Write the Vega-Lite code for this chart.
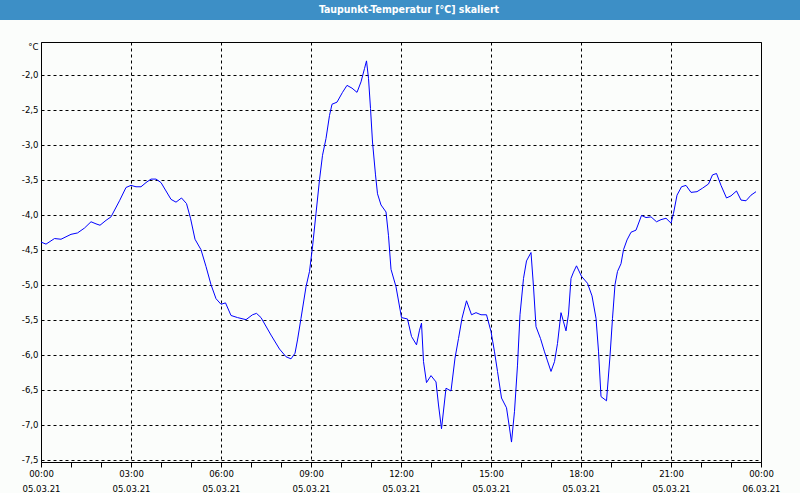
{
  "$schema": "https://vega.github.io/schema/vega-lite/v6.json",
  "background": "#fbfdfb",
  "padding": 0,
  "columns": 1,
  "spacing": 20,
  "config": {"font": "DejaVu Sans Condensed, DejaVu Sans"},
  "concat": [
    {
      "width": 760,
      "height": 20,
      "view": {"fill": "#3d8fc6", "stroke": null},
      "data": {"values": [{"label": "Taupunkt-Temperatur [°C] skaliert", "p": 0}]},
      "mark": {"type": "text", "color": "white", "fontSize": 10.5, "fontWeight": "bold", "dx": -12},
      "encoding": {
        "text": {"field": "label", "type": "nominal"},
        "y": {
          "field": "p",
          "type": "quantitative",
          "scale": {"domain": [-1, 1]},
          "axis": {"title": null, "labels": false, "ticks": false, "grid": false, "domain": true, "domainColor": "#3d8fc6", "domainWidth": 82, "translate": 0, "minExtent": 0}
        }
      }
    },
    {
      "width": 720,
      "height": 420,
      "view": {"stroke": "black", "strokeWidth": 1, "fill": null},
      "data": {"values": [
        {"t": "2021-03-05T00:00", "v": -4.39},
        {"t": "2021-03-05T00:10", "v": -4.42},
        {"t": "2021-03-05T00:27", "v": -4.34},
        {"t": "2021-03-05T00:40", "v": -4.35},
        {"t": "2021-03-05T01:00", "v": -4.28},
        {"t": "2021-03-05T01:13", "v": -4.26},
        {"t": "2021-03-05T01:27", "v": -4.19},
        {"t": "2021-03-05T01:40", "v": -4.10},
        {"t": "2021-03-05T01:50", "v": -4.13},
        {"t": "2021-03-05T01:58", "v": -4.15},
        {"t": "2021-03-05T02:10", "v": -4.08},
        {"t": "2021-03-05T02:20", "v": -4.03},
        {"t": "2021-03-05T02:37", "v": -3.80},
        {"t": "2021-03-05T02:50", "v": -3.61},
        {"t": "2021-03-05T03:00", "v": -3.58},
        {"t": "2021-03-05T03:10", "v": -3.60},
        {"t": "2021-03-05T03:20", "v": -3.60},
        {"t": "2021-03-05T03:30", "v": -3.54},
        {"t": "2021-03-05T03:40", "v": -3.49},
        {"t": "2021-03-05T03:50", "v": -3.49},
        {"t": "2021-03-05T04:00", "v": -3.54},
        {"t": "2021-03-05T04:10", "v": -3.66},
        {"t": "2021-03-05T04:20", "v": -3.78},
        {"t": "2021-03-05T04:30", "v": -3.82},
        {"t": "2021-03-05T04:41", "v": -3.76},
        {"t": "2021-03-05T04:51", "v": -3.84},
        {"t": "2021-03-05T04:59", "v": -4.05},
        {"t": "2021-03-05T05:08", "v": -4.35},
        {"t": "2021-03-05T05:20", "v": -4.50},
        {"t": "2021-03-05T05:30", "v": -4.74},
        {"t": "2021-03-05T05:40", "v": -5.00},
        {"t": "2021-03-05T05:50", "v": -5.20},
        {"t": "2021-03-05T06:00", "v": -5.28},
        {"t": "2021-03-05T06:09", "v": -5.26},
        {"t": "2021-03-05T06:20", "v": -5.44},
        {"t": "2021-03-05T06:33", "v": -5.47},
        {"t": "2021-03-05T06:50", "v": -5.50},
        {"t": "2021-03-05T07:03", "v": -5.43},
        {"t": "2021-03-05T07:11", "v": -5.41},
        {"t": "2021-03-05T07:20", "v": -5.47},
        {"t": "2021-03-05T07:40", "v": -5.72},
        {"t": "2021-03-05T07:57", "v": -5.92},
        {"t": "2021-03-05T08:10", "v": -6.03},
        {"t": "2021-03-05T08:20", "v": -6.06},
        {"t": "2021-03-05T08:28", "v": -5.98},
        {"t": "2021-03-05T08:33", "v": -5.79},
        {"t": "2021-03-05T08:40", "v": -5.48},
        {"t": "2021-03-05T08:50", "v": -5.03},
        {"t": "2021-03-05T08:57", "v": -4.81},
        {"t": "2021-03-05T09:03", "v": -4.46},
        {"t": "2021-03-05T09:10", "v": -3.98},
        {"t": "2021-03-05T09:17", "v": -3.50},
        {"t": "2021-03-05T09:23", "v": -3.15},
        {"t": "2021-03-05T09:30", "v": -2.91},
        {"t": "2021-03-05T09:37", "v": -2.58},
        {"t": "2021-03-05T09:42", "v": -2.42},
        {"t": "2021-03-05T09:52", "v": -2.39},
        {"t": "2021-03-05T10:03", "v": -2.25},
        {"t": "2021-03-05T10:12", "v": -2.15},
        {"t": "2021-03-05T10:22", "v": -2.19},
        {"t": "2021-03-05T10:32", "v": -2.25},
        {"t": "2021-03-05T10:40", "v": -2.10},
        {"t": "2021-03-05T10:47", "v": -1.91},
        {"t": "2021-03-05T10:51", "v": -1.80},
        {"t": "2021-03-05T10:55", "v": -2.05},
        {"t": "2021-03-05T10:59", "v": -2.48},
        {"t": "2021-03-05T11:03", "v": -2.96},
        {"t": "2021-03-05T11:09", "v": -3.43},
        {"t": "2021-03-05T11:13", "v": -3.70},
        {"t": "2021-03-05T11:20", "v": -3.86},
        {"t": "2021-03-05T11:30", "v": -3.96},
        {"t": "2021-03-05T11:35", "v": -4.30},
        {"t": "2021-03-05T11:40", "v": -4.78},
        {"t": "2021-03-05T11:50", "v": -5.03},
        {"t": "2021-03-05T12:01", "v": -5.47},
        {"t": "2021-03-05T12:13", "v": -5.49},
        {"t": "2021-03-05T12:21", "v": -5.74},
        {"t": "2021-03-05T12:31", "v": -5.86},
        {"t": "2021-03-05T12:37", "v": -5.65},
        {"t": "2021-03-05T12:41", "v": -5.55},
        {"t": "2021-03-05T12:45", "v": -6.10},
        {"t": "2021-03-05T12:51", "v": -6.40},
        {"t": "2021-03-05T13:00", "v": -6.30},
        {"t": "2021-03-05T13:10", "v": -6.39},
        {"t": "2021-03-05T13:15", "v": -6.72},
        {"t": "2021-03-05T13:21", "v": -7.06},
        {"t": "2021-03-05T13:30", "v": -6.48},
        {"t": "2021-03-05T13:40", "v": -6.52},
        {"t": "2021-03-05T13:48", "v": -6.05},
        {"t": "2021-03-05T13:55", "v": -5.77},
        {"t": "2021-03-05T14:02", "v": -5.48},
        {"t": "2021-03-05T14:11", "v": -5.23},
        {"t": "2021-03-05T14:21", "v": -5.43},
        {"t": "2021-03-05T14:30", "v": -5.40},
        {"t": "2021-03-05T14:40", "v": -5.43},
        {"t": "2021-03-05T14:51", "v": -5.43},
        {"t": "2021-03-05T15:00", "v": -5.67},
        {"t": "2021-03-05T15:07", "v": -5.96},
        {"t": "2021-03-05T15:13", "v": -6.24},
        {"t": "2021-03-05T15:21", "v": -6.62},
        {"t": "2021-03-05T15:31", "v": -6.76},
        {"t": "2021-03-05T15:37", "v": -7.05},
        {"t": "2021-03-05T15:41", "v": -7.25},
        {"t": "2021-03-05T15:47", "v": -6.81},
        {"t": "2021-03-05T15:53", "v": -6.15},
        {"t": "2021-03-05T15:58", "v": -5.43},
        {"t": "2021-03-05T16:05", "v": -4.91},
        {"t": "2021-03-05T16:11", "v": -4.66},
        {"t": "2021-03-05T16:20", "v": -4.54},
        {"t": "2021-03-05T16:25", "v": -5.03},
        {"t": "2021-03-05T16:30", "v": -5.60},
        {"t": "2021-03-05T16:39", "v": -5.77},
        {"t": "2021-03-05T16:47", "v": -5.96},
        {"t": "2021-03-05T16:53", "v": -6.09},
        {"t": "2021-03-05T17:00", "v": -6.24},
        {"t": "2021-03-05T17:07", "v": -6.10},
        {"t": "2021-03-05T17:13", "v": -5.84},
        {"t": "2021-03-05T17:20", "v": -5.40},
        {"t": "2021-03-05T17:25", "v": -5.53},
        {"t": "2021-03-05T17:30", "v": -5.66},
        {"t": "2021-03-05T17:35", "v": -5.42},
        {"t": "2021-03-05T17:40", "v": -4.91},
        {"t": "2021-03-05T17:45", "v": -4.82},
        {"t": "2021-03-05T17:51", "v": -4.73},
        {"t": "2021-03-05T18:01", "v": -4.88},
        {"t": "2021-03-05T18:13", "v": -4.98},
        {"t": "2021-03-05T18:22", "v": -5.16},
        {"t": "2021-03-05T18:30", "v": -5.48},
        {"t": "2021-03-05T18:35", "v": -5.95},
        {"t": "2021-03-05T18:40", "v": -6.60},
        {"t": "2021-03-05T18:51", "v": -6.66},
        {"t": "2021-03-05T18:58", "v": -6.02},
        {"t": "2021-03-05T19:03", "v": -5.48},
        {"t": "2021-03-05T19:08", "v": -5.00},
        {"t": "2021-03-05T19:13", "v": -4.81},
        {"t": "2021-03-05T19:20", "v": -4.70},
        {"t": "2021-03-05T19:25", "v": -4.50},
        {"t": "2021-03-05T19:32", "v": -4.36},
        {"t": "2021-03-05T19:40", "v": -4.25},
        {"t": "2021-03-05T19:50", "v": -4.22},
        {"t": "2021-03-05T20:01", "v": -4.01},
        {"t": "2021-03-05T20:10", "v": -4.04},
        {"t": "2021-03-05T20:20", "v": -4.03},
        {"t": "2021-03-05T20:31", "v": -4.10},
        {"t": "2021-03-05T20:40", "v": -4.07},
        {"t": "2021-03-05T20:50", "v": -4.05},
        {"t": "2021-03-05T21:00", "v": -4.12},
        {"t": "2021-03-05T21:05", "v": -3.98},
        {"t": "2021-03-05T21:12", "v": -3.72},
        {"t": "2021-03-05T21:21", "v": -3.60},
        {"t": "2021-03-05T21:30", "v": -3.58},
        {"t": "2021-03-05T21:40", "v": -3.68},
        {"t": "2021-03-05T21:52", "v": -3.67},
        {"t": "2021-03-05T22:03", "v": -3.62},
        {"t": "2021-03-05T22:15", "v": -3.56},
        {"t": "2021-03-05T22:23", "v": -3.43},
        {"t": "2021-03-05T22:31", "v": -3.41},
        {"t": "2021-03-05T22:40", "v": -3.58},
        {"t": "2021-03-05T22:51", "v": -3.76},
        {"t": "2021-03-05T23:00", "v": -3.73},
        {"t": "2021-03-05T23:11", "v": -3.66},
        {"t": "2021-03-05T23:20", "v": -3.79},
        {"t": "2021-03-05T23:30", "v": -3.80},
        {"t": "2021-03-05T23:40", "v": -3.72},
        {"t": "2021-03-05T23:50", "v": -3.67}
      ]},
      "mark": {"type": "line", "color": "#0000ff", "strokeWidth": 1},
      "encoding": {
        "x": {
          "field": "t",
          "type": "temporal",
          "scale": {"domain": [{"year": 2021, "month": 3, "date": 5, "hours": 0}, {"year": 2021, "month": 3, "date": 6, "hours": 0}], "nice": false},
          "axis": {
            "title": null,
            "values": [
              {"year": 2021, "month": 3, "date": 5, "hours": 0},
              {"year": 2021, "month": 3, "date": 5, "hours": 1},
              {"year": 2021, "month": 3, "date": 5, "hours": 2},
              {"year": 2021, "month": 3, "date": 5, "hours": 3},
              {"year": 2021, "month": 3, "date": 5, "hours": 4},
              {"year": 2021, "month": 3, "date": 5, "hours": 5},
              {"year": 2021, "month": 3, "date": 5, "hours": 6},
              {"year": 2021, "month": 3, "date": 5, "hours": 7},
              {"year": 2021, "month": 3, "date": 5, "hours": 8},
              {"year": 2021, "month": 3, "date": 5, "hours": 9},
              {"year": 2021, "month": 3, "date": 5, "hours": 10},
              {"year": 2021, "month": 3, "date": 5, "hours": 11},
              {"year": 2021, "month": 3, "date": 5, "hours": 12},
              {"year": 2021, "month": 3, "date": 5, "hours": 13},
              {"year": 2021, "month": 3, "date": 5, "hours": 14},
              {"year": 2021, "month": 3, "date": 5, "hours": 15},
              {"year": 2021, "month": 3, "date": 5, "hours": 16},
              {"year": 2021, "month": 3, "date": 5, "hours": 17},
              {"year": 2021, "month": 3, "date": 5, "hours": 18},
              {"year": 2021, "month": 3, "date": 5, "hours": 19},
              {"year": 2021, "month": 3, "date": 5, "hours": 20},
              {"year": 2021, "month": 3, "date": 5, "hours": 21},
              {"year": 2021, "month": 3, "date": 5, "hours": 22},
              {"year": 2021, "month": 3, "date": 5, "hours": 23},
              {"year": 2021, "month": 3, "date": 6, "hours": 0}
            ],
            "labelExpr": "hours(datum.value) % 3 === 0 ? [timeFormat(datum.value, '%H:%M'), timeFormat(datum.value, '%d.%m.%y')] : ''",
            "labelFontSize": 9.5,
            "labelColor": "black",
            "labelLineHeight": 15,
            "labelPadding": 1,
            "labelOverlap": false,
            "labelFlush": false,
            "domain": true,
            "domainColor": "black",
            "ticks": true,
            "tickSize": 5,
            "tickColor": "black",
            "grid": true,
            "gridColor": "black",
            "gridDash": [3, 3],
            "gridOpacity": {"condition": {"test": "hours(datum.value) % 3 === 0", "value": 1}, "value": 0}
          }
        },
        "y": {
          "field": "v",
          "type": "quantitative",
          "scale": {"domain": [-7.535, -1.53], "nice": false, "zero": false},
          "axis": {
            "values": [-7.5, -7, -6.5, -6, -5.5, -5, -4.5, -4, -3.5, -3, -2.5, -2],
            "labelExpr": "(datum.value < 0 ? '-' : '') + replace(format(abs(datum.value), '.1f'), '.', ',')",
            "labelFontSize": 9.5,
            "labelColor": "black",
            "labelPadding": 3,
            "labelOverlap": false,
            "domain": false,
            "ticks": false,
            "grid": true,
            "gridColor": "black",
            "gridDash": [3, 3],
            "minExtent": 40,
            "title": "°C",
            "titleAngle": 0,
            "titleAlign": "right",
            "titleBaseline": "middle",
            "titleFontWeight": "normal",
            "titleFontSize": 9.5,
            "titleColor": "black",
            "titleX": -3,
            "titleY": 4
          }
        }
      }
    }
  ]
}
